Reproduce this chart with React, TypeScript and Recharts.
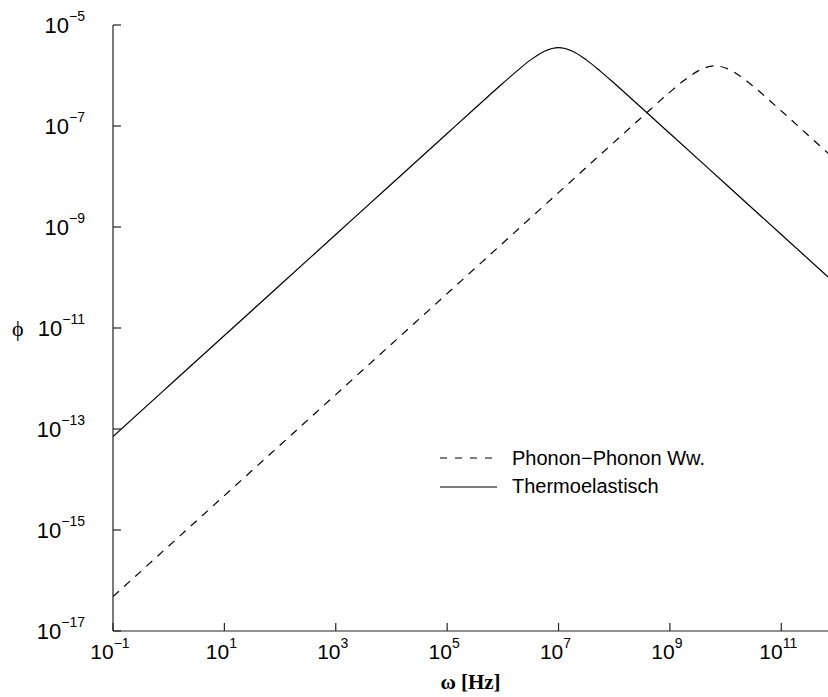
import { LineChart, Line, XAxis, YAxis, Legend, Label } from "recharts";

// frequency / damping values (log-log)
const omegaThermo = [
  1e-1, 1e0, 1e1, 1e2, 1e3, 1e4, 1e5, 3.16e5, 1e6, 1.78e6, 3.16e6, 5.62e6, 1e7,
  1.78e7, 3.16e7, 5.62e7, 1e8, 3.16e8, 1e9, 1e10, 1e11, 6.9e11,
];
const phiThermo = [
  7.1e-14, 7.1e-13, 7.1e-12, 7.1e-11, 7.1e-10, 7.1e-9, 7.1e-8, 2.24e-7, 7.0e-7,
  1.22e-6, 2.04e-6, 3.03e-6, 3.55e-6, 3.03e-6, 2.04e-6, 1.22e-6, 7.0e-7, 2.24e-7,
  7.1e-8, 7.1e-9, 7.1e-10, 1.03e-10,
];

const omegaPhonon = [
  1e-1, 1e1, 1e3, 1e5, 1e7, 1e8, 3.16e8, 1e9, 1.78e9, 3.16e9, 5.62e9, 6.46e9,
  1e10, 1.78e10, 3.16e10, 1e11, 3.16e11, 6.9e11,
];
const phiPhonon = [
  4.8e-17, 4.8e-15, 4.8e-13, 4.8e-11, 4.8e-9, 4.8e-8, 1.51e-7, 4.69e-7, 7.93e-7,
  1.22e-6, 1.53e-6, 1.55e-6, 1.41e-6, 9.93e-7, 6.07e-7, 1.99e-7, 6.32e-8, 2.89e-8,
];

const xTicks = [1e-1, 1e1, 1e3, 1e5, 1e7, 1e9, 1e11];
const yTicks = [1e-17, 1e-15, 1e-13, 1e-11, 1e-9, 1e-7, 1e-5];

const thermoData = omegaThermo.map((x, i) => ({ x, y: phiThermo[i] }));
const phononData = omegaPhonon.map((x, i) => ({ x, y: phiPhonon[i] }));

const AXIS = "#222";
const FONT = "'Liberation Sans', Arial, Helvetica, sans-serif";

const expOf = (v: number) => {
  const e = Math.round(Math.log10(v));
  return e < 0 ? `\u2212${Math.abs(e)}` : `${e}`;
};

const BottomTick = (props: any) => {
  const { x, y, payload } = props;
  return (
    <g>
      <line x1={x} y1={y} x2={x} y2={y - 8} stroke={AXIS} strokeWidth={1.2} />
      <text x={x - 3} y={y + 28} textAnchor="middle" fontSize={21} fontFamily={FONT} fill="#000">
        10
        <tspan dy={-11} fontSize={14}>
          {expOf(payload.value)}
        </tspan>
      </text>
    </g>
  );
};

const TopTick = (props: any) => {
  const { x, y } = props;
  return <line x1={x} y1={y} x2={x} y2={y + 8} stroke={AXIS} strokeWidth={1.2} />;
};

const LeftTick = (props: any) => {
  const { x, y, payload } = props;
  return (
    <g>
      <line x1={x} y1={y} x2={x + 8} y2={y} stroke={AXIS} strokeWidth={1.2} />
      <text x={85} y={y + 8} textAnchor="end" fontSize={22} fontFamily={FONT} fill="#000">
        10
        <tspan dy={-12} fontSize={14}>
          {expOf(payload.value)}
        </tspan>
      </text>
    </g>
  );
};

const renderLegend = () => (
  <svg width={300} height={60}>
    <line x1={8} y1={13} x2={65} y2={13} stroke="#000" strokeWidth={1.1} strokeDasharray="7 8" />
    <text x={80} y={20} fontSize={20} fontFamily={FONT} fill="#000">
      Phonon{"\u2212"}Phonon Ww.
    </text>
    <line x1={8} y1={42} x2={65} y2={42} stroke="#000" strokeWidth={1.1} />
    <text x={80} y={48} fontSize={20} fontFamily={FONT} fill="#000">
      Thermoelastisch
    </text>
  </svg>
);

export default function App() {
  return (
    <div style={{ position: "absolute", left: 0, top: 0, background: "#fff" }}>
      <LineChart width={828} height={697} margin={{ top: 25, right: 0, left: 0, bottom: 0 }}>
        <XAxis
          dataKey="x"
          type="number"
          scale="log"
          domain={[1e-1, 6.9e11]}
          allowDataOverflow
          ticks={xTicks}
          interval={0}
          height={66}
          tickSize={0}
          tickMargin={0}
          tickLine={false}
          tick={<BottomTick />}
          axisLine={{ stroke: AXIS, strokeWidth: 1.2 }}
        >
          <Label
            value="ω [Hz]"
            position="insideBottom"
            offset={8}
            style={{ fontFamily: "'Liberation Serif', 'Times New Roman', serif", fontWeight: "bold", fontSize: 21, fill: "#000" }}
          />
        </XAxis>
        <XAxis
          xAxisId="top"
          orientation="top"
          dataKey="x"
          type="number"
          scale="log"
          domain={[1e-1, 6.9e11]}
          allowDataOverflow
          ticks={xTicks}
          interval={0}
          height={0}
          tickSize={0}
          tickMargin={0}
          tickLine={false}
          tick={<TopTick />}
          axisLine={{ stroke: AXIS, strokeWidth: 1.2 }}
        />
        <YAxis
          dataKey="y"
          type="number"
          scale="log"
          domain={[1e-17, 1e-5]}
          allowDataOverflow
          ticks={yTicks}
          interval={0}
          width={113}
          tickSize={0}
          tickMargin={0}
          tickLine={false}
          tick={<LeftTick />}
          axisLine={{ stroke: AXIS, strokeWidth: 1.2 }}
        >
          <Label
            value="ϕ"
            position="insideLeft"
            offset={12}
            style={{ fontFamily: "'Liberation Serif', 'Times New Roman', serif", fontSize: 22, fill: "#000" }}
          />
        </YAxis>
        <Legend
          layout="vertical"
          align="center"
          verticalAlign="middle"
          content={renderLegend}
          wrapperStyle={{ left: 432, top: 445, width: 300, height: 60 }}
        />
        <Line
          data={phononData}
          dataKey="y"
          type="monotone"
          stroke="#000"
          strokeWidth={1.2}
          strokeDasharray="8 7"
          dot={false}
          isAnimationActive={false}
        />
        <Line
          data={thermoData}
          dataKey="y"
          type="monotone"
          stroke="#000"
          strokeWidth={1.2}
          dot={false}
          isAnimationActive={false}
        />
      </LineChart>
    </div>
  );
}
